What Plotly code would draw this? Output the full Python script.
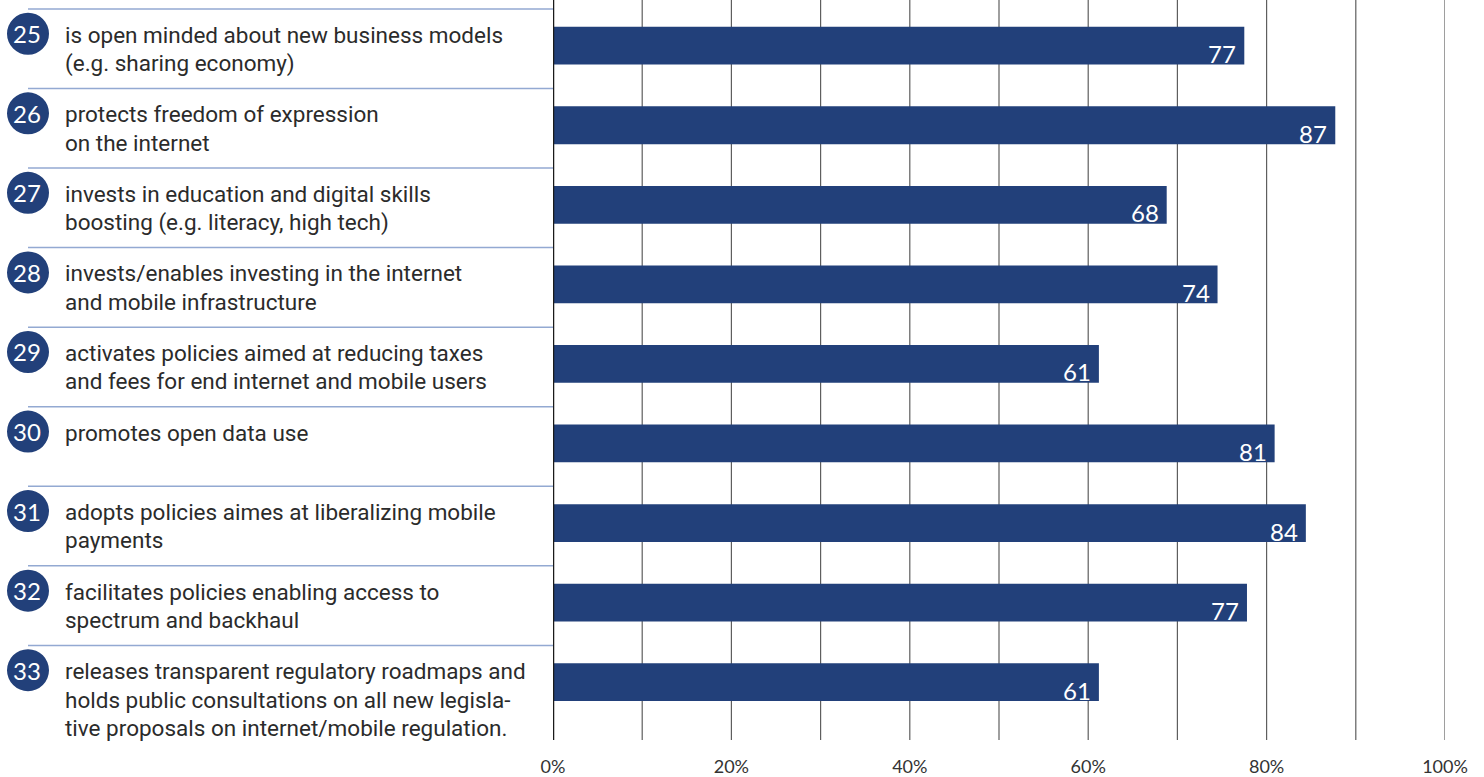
import plotly.graph_objects as go

numbers = ["25", "26", "27", "28", "29", "30", "31", "32", "33"]
labels = [
    "is open minded about new business models<br>(e.g. sharing economy)",
    "protects freedom of expression<br>on the internet",
    "invests in education and digital skills<br>boosting (e.g. literacy, high tech)",
    "invests/enables investing in the internet<br>and mobile infrastructure",
    "activates policies aimed at reducing taxes<br>and fees for end internet and mobile users",
    "promotes open data use",
    "adopts policies aimes at liberalizing mobile<br>payments",
    "facilitates policies enabling access to<br>spectrum and backhaul",
    "releases transparent regulatory roadmaps and<br>holds public consultations on all new legisla-<br>tive proposals on internet/mobile regulation.",
]
values = [77.5, 87.7, 68.8, 74.5, 61.2, 80.9, 84.4, 77.8, 61.2]
value_labels = ["77", "87", "68", "74", "61", "81", "84", "77", "61"]
tick_vals = [0, 20, 40, 60, 80, 100]
tick_text = ["0%", "20%", "40%", "60%", "80%", "100%"]

NAVY = "#22407a"
FONT = "Lato"
LABEL_FONT = "Roboto"
W, H = 1484, 777
ML, MR, MT, MB = 553, 39, 0, 32
PW = W - ML - MR
ROW_PX = 80.1
LINE_PX = 28.5

def px_to_paper(px):
    return (px - ML) / PW

pos = list(range(len(values)))

fig = go.Figure()
fig.add_trace(go.Bar(
    x=values, y=pos, orientation="h", width=0.475,
    marker=dict(color=NAVY, line=dict(width=0)),
    hoverinfo="skip",
))

shapes = []
annotations = []
for k in pos:
    row_top = k - 0.462
    shapes.append(dict(type="line", xref="paper", yref="y",
                       x0=px_to_paper(28), x1=0, y0=row_top, y1=row_top,
                       line=dict(color="#93a9d2", width=1.5), layer="above"))
    shapes.append(dict(type="circle", xref="paper", yref="y",
                       xsizemode="pixel", ysizemode="pixel",
                       xanchor=px_to_paper(28), yanchor=k - 0.15,
                       x0=-21, x1=21, y0=-21, y1=21,
                       fillcolor=NAVY, line=dict(width=0), layer="above"))
    annotations.append(dict(xref="paper", yref="y", x=px_to_paper(28), y=k - 0.15,
                            text=numbers[k], showarrow=False,
                            xanchor="center", yanchor="middle", xshift=-1,
                            font=dict(family=FONT, size=24, color="white")))
    for i, line in enumerate(labels[k].split("<br>")):
        annotations.append(dict(xref="paper", yref="y", x=px_to_paper(63),
                                y=row_top + (26 + i * LINE_PX) / ROW_PX,
                                text=line, showarrow=False, align="left",
                                xanchor="left", yanchor="middle",
                                font=dict(family=LABEL_FONT, size=22.5, color="#2b2b2b")))
    annotations.append(dict(xref="x", yref="y", x=values[k], y=k,
                            text=value_labels[k], showarrow=False,
                            xanchor="right", yanchor="middle", xshift=-6, yshift=-8,
                            font=dict(family=FONT, size=24, color="white")))

fig.update_layout(
    width=W, height=H,
    margin=dict(l=ML, r=MR, t=MT, b=MB),
    paper_bgcolor="white", plot_bgcolor="white",
    showlegend=False,
    shapes=shapes,
    annotations=annotations,
    xaxis=dict(range=[0, 100], tickvals=tick_vals, ticktext=tick_text,
               showgrid=False, zeroline=False, showline=False,
               ticks="", ticklabelstandoff=14,
               tickfont=dict(family=FONT, size=18, color="#333333"),
               fixedrange=True),
    yaxis=dict(range=[8.727, -0.574], showticklabels=False, showgrid=False,
               zeroline=False, showline=False, ticks="", fixedrange=True),
)

for g in range(10, 101, 10):
    fig.add_shape(type="line", xref="x", yref="paper", x0=g, x1=g, y0=0, y1=1,
                  line=dict(color="#5e5e5e", width=1.2), layer="below")
fig.add_shape(type="line", xref="x", yref="paper", x0=0, x1=0, y0=0, y1=1,
              line=dict(color="#1a1a1a", width=2.5), layer="above")

fig.write_html("out.html", post_script="document.body.style.margin='0px';",
               config={"displayModeBar": False})
